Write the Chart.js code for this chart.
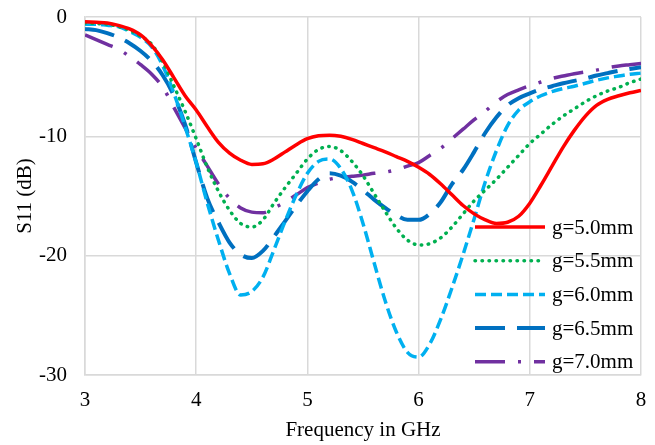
<!DOCTYPE html>
<html>
<head>
<meta charset="utf-8">
<script src="https://cdn.jsdelivr.net/npm/chart.js@4/dist/chart.umd.min.js"></script>
<style>
  html, body { margin: 0; padding: 0; background: #fff; }
</style>
</head>
<body>
<canvas id="s11-chart" width="655" height="445"></canvas>
<script>
const freqGHz = [
  3.0, 3.1, 3.2, 3.3, 3.4, 3.5, 3.6, 3.7, 3.8, 3.9,
  4.0, 4.1, 4.2, 4.3, 4.4, 4.5, 4.6, 4.7, 4.8, 4.9,
  5.0, 5.1, 5.2, 5.3, 5.4, 5.5, 5.6, 5.7, 5.8, 5.9,
  6.0, 6.1, 6.2, 6.3, 6.4, 6.5, 6.6, 6.7, 6.8, 6.9,
  7.0, 7.1, 7.2, 7.3, 7.4, 7.5, 7.6, 7.7, 7.8, 7.9, 8.0
];

const seriesLabels = ["g=5.0mm", "g=5.5mm", "g=6.0mm", "g=6.5mm", "g=7.0mm"];

const s11_g50 = [
  -0.4, -0.45, -0.5, -0.7, -1.0, -1.5, -2.4, -3.6, -5.1, -6.6,
  -7.8, -9.2, -10.5, -11.4, -12.0, -12.35, -12.3, -11.9, -11.3, -10.7,
  -10.2, -9.95, -9.9, -10.0, -10.25, -10.6, -10.95, -11.3, -11.7, -12.1,
  -12.6, -13.2, -14.0, -14.9, -15.8, -16.5, -17.0, -17.3, -17.2, -16.7,
  -15.6, -14.1, -12.5, -10.9, -9.5, -8.3, -7.4, -6.9, -6.6, -6.35, -6.15
];

const s11_g55 = [
  -0.5, -0.55, -0.6, -0.8, -1.1, -1.6, -2.3, -3.8, -5.8, -7.9,
  -10.2, -12.6, -14.6, -16.2, -17.3, -17.6, -17.0, -15.6, -14.3, -13.1,
  -11.9, -11.1, -10.85, -11.2, -12.1, -13.3, -14.8, -16.3, -17.7, -18.7,
  -19.1, -19.0, -18.5, -17.6, -16.5, -15.4, -14.5, -13.6, -12.6, -11.6,
  -10.6, -9.8, -9.0, -8.3, -7.7, -7.1, -6.6, -6.2, -5.9, -5.5, -5.2
];

const s11_g60 = [
  -0.6, -0.6, -0.7, -0.8, -1.2, -1.7, -2.5, -4.1, -6.4, -9.2,
  -12.2, -15.6, -18.7, -21.5, -23.3, -23.0, -21.8, -19.5, -17.1, -14.9,
  -13.1, -12.1, -11.9, -12.7, -14.5, -17.3, -20.6, -23.8, -26.4, -28.1,
  -28.5, -27.4, -25.3, -22.7, -19.9, -16.9, -13.8, -11.2, -9.1, -7.8,
  -7.1, -6.6, -6.25, -6.0, -5.8, -5.55, -5.3, -5.1, -4.95, -4.8, -4.7
];

const s11_g65 = [
  -1.0, -1.1, -1.35, -1.7, -2.2, -2.85, -3.7, -4.9, -6.6, -9.0,
  -12.2, -15.2, -17.2, -18.9, -19.9, -20.2, -19.6, -18.4, -17.1, -15.8,
  -14.6, -13.6, -13.1, -13.3, -13.8, -14.5, -15.3, -16.0, -16.6, -17.0,
  -17.0, -16.5, -15.5, -14.0, -12.8, -11.3, -9.7, -8.4, -7.4, -6.8,
  -6.4, -6.05, -5.8, -5.55, -5.35, -5.15, -4.9, -4.7, -4.5, -4.35, -4.2
];

const s11_g70 = [
  -1.5, -1.9, -2.3, -2.7, -3.3, -4.0, -4.8, -5.9, -7.6, -9.3,
  -11.0, -12.5, -14.0, -15.2, -16.0, -16.35, -16.4, -16.0, -15.5, -14.9,
  -14.3, -13.9, -13.6, -13.45, -13.35, -13.25, -13.1, -13.0, -12.8, -12.5,
  -12.2, -11.6, -11.0, -10.2, -9.4, -8.6, -7.9, -7.1, -6.5, -6.1,
  -5.75, -5.45, -5.15, -4.95, -4.75, -4.6, -4.45, -4.25, -4.1, -4.0, -3.9
];

const xTicks = [3, 4, 5, 6, 7, 8];
const yTicks = [0, -10, -20, -30];

const serifFont = '"Liberation Serif", "Times New Roman", serif';

// pair each value with its frequency
const toPoints = (vals) => vals.map((v, i) => ({ x: freqGHz[i], y: v }));

const lineStyles = [
  { color: "#FF0000", width: 3.5, dash: [], cap: "butt" },
  { color: "#00B050", width: 3.5, dash: [0.5, 6.5], cap: "round" },
  { color: "#00B0F0", width: 3.5, dash: [11, 5], cap: "butt" },
  { color: "#0070C0", width: 4, dash: [30, 12], cap: "butt" },
  { color: "#7030A0", width: 3.5, dash: [30, 13, 3, 13], cap: "butt" },
];

const allSeries = [s11_g50, s11_g55, s11_g60, s11_g65, s11_g70];

// legend sits inside the plot, lower right, no box
const insideLegend = {
    id: "insideLegend",
    afterDatasetsDraw(chart) {
        const ctx = chart.ctx;
        const area = chart.chartArea;
        const x0 = area.right - 166;
        let y = area.bottom - 148;
        ctx.save();
        ctx.font = "21px " + serifFont;
        ctx.textBaseline = "middle";
        ctx.textAlign = "left";
        chart.data.datasets.forEach((ds) => {
            ctx.beginPath();
            ctx.strokeStyle = ds.borderColor;
            ctx.lineWidth = ds.borderWidth;
            ctx.lineCap = ds.borderCapStyle;
            ctx.setLineDash(ds.borderDash);
            ctx.moveTo(x0, y);
            ctx.lineTo(x0 + 70, y);
            ctx.stroke();
            ctx.setLineDash([]);
            ctx.fillStyle = "#000";
            ctx.fillText(ds.label, x0 + 77, y + 1);
            y += 33.7;
        });
        ctx.restore();
    },
};

const ctx = document.getElementById("s11-chart");

new Chart(ctx, {
    type: "line",
    data: {
        datasets: allSeries.map((vals, i) => ({
            label: seriesLabels[i],
            data: toPoints(vals),
            borderColor: lineStyles[i].color,
            borderWidth: lineStyles[i].width,
            borderDash: lineStyles[i].dash,
            borderCapStyle: lineStyles[i].cap,
            pointRadius: 0,
            fill: false,
            cubicInterpolationMode: "monotone",
        })),
    },
    options: {
        responsive: false,
        animation: false,
        layout: {
            padding: { top: 17, right: 14, bottom: 0, left: 0 },
        },
        plugins: {
            legend: { display: false },
            tooltip: { enabled: false },
        },
        scales: {
            x: {
                type: "linear",
                min: 3,
                max: 8,
                afterBuildTicks: (scale) => {
                    scale.ticks = xTicks.map((v) => ({ value: v }));
                },
                afterFit: (scale) => {
                    scale.height = 70;
                    scale.paddingLeft = 0;
                    scale.paddingRight = 0;
                },
                grid: { color: "#D9D9D9", lineWidth: 1.5, drawTicks: false },
                border: { color: "#D9D9D9", width: 1.5 },
                ticks: {
                    padding: 13,
                    color: "#000",
                    font: { family: serifFont, size: 21 },
                    maxRotation: 0,
                },
                title: {
                    display: true,
                    text: "Frequency in GHz",
                    color: "#000",
                    font: { family: serifFont, size: 21 },
                    padding: { top: 0, bottom: 2 },
                },
            },
            y: {
                min: -30,
                max: 0,
                afterBuildTicks: (scale) => {
                    scale.ticks = yTicks.map((v) => ({ value: v }));
                },
                afterFit: (scale) => {
                    scale.width = 85;
                    scale.paddingTop = 0;
                    scale.paddingBottom = 0;
                },
                grid: { color: "#D9D9D9", lineWidth: 1.5, drawTicks: false },
                border: { color: "#D9D9D9", width: 1.5 },
                ticks: {
                    padding: 18,
                    color: "#000",
                    font: { family: serifFont, size: 21 },
                },
                title: {
                    display: true,
                    text: "S11 (dB)",
                    color: "#000",
                    font: { family: serifFont, size: 21 },
                    padding: { top: 13, bottom: 0 },
                },
            },
        },
    },
    plugins: [insideLegend],
});
</script>
</body>
</html>
